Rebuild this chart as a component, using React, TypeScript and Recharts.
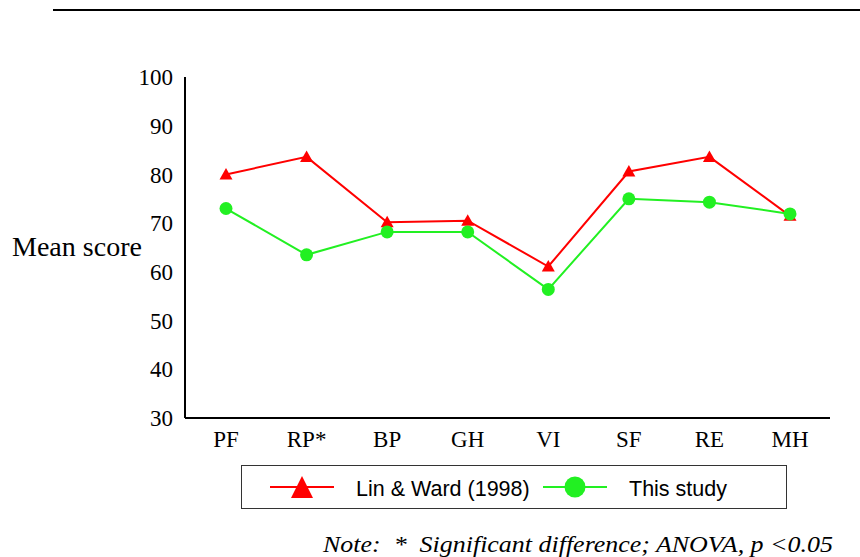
import React from 'react';
import { LineChart, Line, XAxis, YAxis, Legend } from 'recharts';

const categories = ['PF', 'RP*', 'BP', 'GH', 'VI', 'SF', 'RE', 'MH'];
const linWard = [80, 83.6, 70.2, 70.5, 61.1, 80.6, 83.6, 71.5];
const thisStudy = [73, 63.5, 68.2, 68.2, 56.4, 75, 74.3, 71.9];
const yTicks = [30, 40, 50, 60, 70, 80, 90, 100];

const data = categories.map((name, i) => ({ name, lin: linWard[i], study: thisStudy[i] }));

const RED = '#ff0000';
const GREEN = '#22f022';
const SERIF = '"Liberation Serif", "Times New Roman", serif';
const SANS = '"Liberation Sans", Arial, sans-serif';

const TriangleDot = (props: any) => {
  const { cx, cy } = props;
  if (cx == null || cy == null) return null;
  return (
    <polygon
      key={`tri-${cx}`}
      points={`${cx},${cy - 6.5} ${cx - 6.5},${cy + 5} ${cx + 6.5},${cy + 5}`}
      fill={RED}
    />
  );
};

const CircleDot = (props: any) => {
  const { cx, cy } = props;
  if (cx == null || cy == null) return null;
  return <circle key={`cir-${cx}`} cx={cx} cy={cy} r={6.5} fill={GREEN} />;
};

const itemOffsets = [0, 273];

const LegendBox: React.FC<any> = ({ payload }) => (
  <svg width={546} height={44} style={{ display: 'block' }}>
    <rect x={0.5} y={0.5} width={545} height={43} fill="#fff" stroke="#333" strokeWidth={1} />
    {(payload || []).map((entry: any, i: number) => {
      const ox = 29 + (itemOffsets[i] ?? 0);
      return (
        <g key={entry.value}>
          <line x1={ox} x2={ox + 64} y1={22} y2={22} stroke={entry.color} strokeWidth={2} />
          {entry.dataKey === 'lin' ? (
            <polygon points={`${ox + 32},11 ${ox + 21},33 ${ox + 43},33`} fill={entry.color} />
          ) : (
            <circle cx={ox + 32} cy={22} r={10.5} fill={entry.color} />
          )}
          <text x={ox + 86} y={31} fontFamily={SANS} fontSize={21.5} fill="#000">
            {entry.value}
          </text>
        </g>
      );
    })}
  </svg>
);

const YLabel = (props: any) => {
  const vb = props.viewBox || {};
  return (
    <text
      x={12}
      y={vb.y + vb.height / 2 + 8}
      fontFamily={SERIF}
      fontSize={27}
      textLength={130}
      lengthAdjust="spacingAndGlyphs"
      fill="#000"
    >
      Mean score
    </text>
  );
};

export default function App() {
  return (
    <div style={{ position: 'absolute', left: 0, top: 0, width: 860, height: 557, background: '#fff' }}>
      <LineChart
        width={860}
        height={557}
        data={data}
        margin={{ top: 77, right: 30, left: 0, bottom: 109 }}
      >
        <XAxis
          dataKey="name"
          height={30}
          padding={{ left: 41, right: 40 }}
          axisLine={{ stroke: '#000', strokeWidth: 2 }}
          tickLine={false}
          tickSize={0}
          tickMargin={13}
          tick={{ fill: '#000', fontSize: 23, fontFamily: SERIF }}
          interval={0}
        />
        <YAxis
          width={185}
          domain={[30, 100]}
          ticks={yTicks}
          axisLine={{ stroke: '#000', strokeWidth: 2 }}
          tickLine={false}
          tickSize={0}
          tickMargin={12}
          tick={{ fill: '#000', fontSize: 23, fontFamily: SERIF }}
          label={<YLabel />}
        />
        <Legend
          layout="vertical"
          align="center"
          verticalAlign="middle"
          wrapperStyle={{ left: 241, top: 465, width: 546, height: 44 }}
          content={<LegendBox />}
        />
        <Line
          type="linear"
          dataKey="lin"
          name="Lin & Ward (1998)"
          stroke={RED}
          strokeWidth={2}
          dot={<TriangleDot />}
          activeDot={false}
          isAnimationActive={false}
        />
        <Line
          type="linear"
          dataKey="study"
          name="This study"
          stroke={GREEN}
          strokeWidth={2}
          dot={<CircleDot />}
          activeDot={false}
          isAnimationActive={false}
        />
      </LineChart>
      <svg
        width={860}
        height={557}
        style={{ position: 'absolute', left: 0, top: 0, pointerEvents: 'none' }}
      >
        <line x1={53} x2={860} y1={10} y2={10} stroke="#000" strokeWidth={2} />
        <text
          x={323}
          y={552}
          fontFamily={SERIF}
          fontStyle="italic"
          fontSize={23}
          textLength={510}
          lengthAdjust="spacingAndGlyphs"
          fill="#000"
          style={{ whiteSpace: 'pre' }}
        >
          {'Note:  *  Significant difference; ANOVA, p <0.05'}
        </text>
      </svg>
    </div>
  );
}
